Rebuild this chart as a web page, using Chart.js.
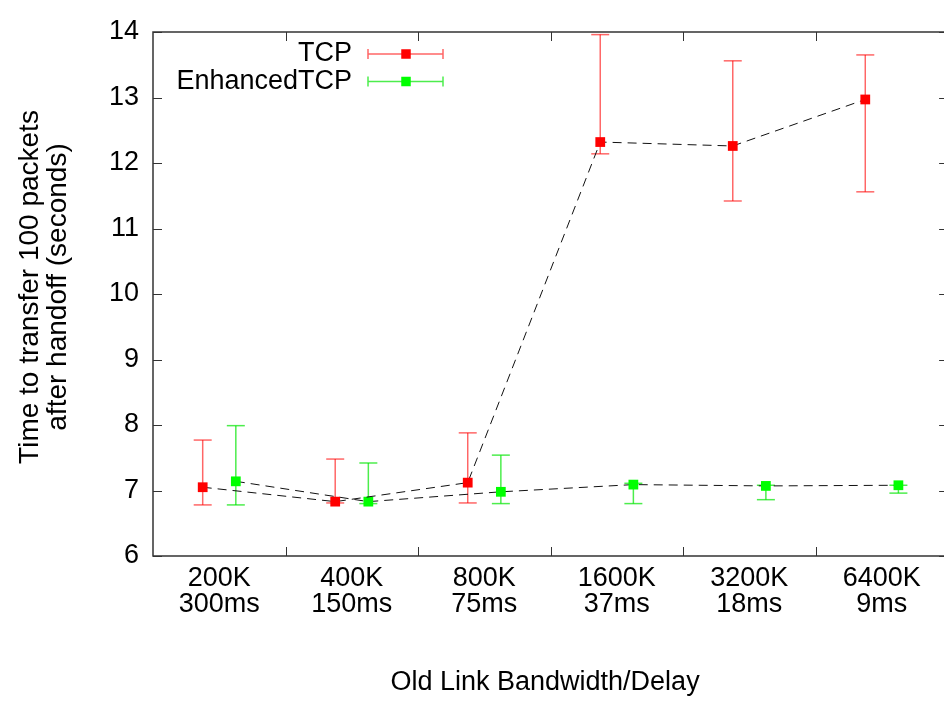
<!DOCTYPE html>
<html>
<head>
<meta charset="utf-8">
<script src="https://cdn.jsdelivr.net/npm/chart.js@4.4.0/dist/chart.umd.min.js"></script>
<style>
  html, body { margin: 0; padding: 0; background: #fff; overflow: hidden; }
</style>
</head>
<body>
<canvas id="chart" width="944" height="702"></canvas>
<script>
// Datos
const bandwidths = ['200K', '400K', '800K', '1600K', '3200K', '6400K'];
const delays = ['300ms', '150ms', '75ms', '37ms', '18ms', '9ms'];
const tcpMean = [7.05, 6.83, 7.12, 12.32, 12.26, 12.97];
const tcpLow = [6.78, 6.81, 6.81, 12.14, 11.42, 11.56];
const tcpHigh = [7.77, 7.48, 7.88, 13.96, 13.56, 13.65];
const enhMean = [7.14, 6.83, 6.98, 7.09, 7.07, 7.08];
const enhLow = [6.78, 6.80, 6.80, 6.80, 6.86, 6.96];
const enhHigh = [7.99, 7.42, 7.54, 7.11, 7.08, 7.08];
const yTicks = [6, 7, 8, 9, 10, 11, 12, 13, 14];

const FONT = '"Liberation Sans", Arial, Helvetica, sans-serif';
const dodge = 0.125;     // desplazamiento de cada serie dentro de la categoría
const xMin = -0.5;
const xMax = 5.417;      // la imagen corta justo antes del borde derecho
const xRightEdge = 5.5;  // borde derecho del marco (fuera de la imagen)

function toPoints(mean, low, high, shift) {
    return mean.map((v, i) => ({ x: i + shift, y: v, lo: low[i], hi: high[i] }));
}

// Barras de error, marco con ticks hacia dentro y leyenda estilo gnuplot
const gnuplotStyle = {
    id: 'gnuplotStyle',
    beforeDatasetsDraw(chart) {
        const { ctx, chartArea: a, scales: { x, y } } = chart;
        const line = (x1, y1, x2, y2) => { ctx.beginPath(); ctx.moveTo(x1, y1); ctx.lineTo(x2, y2); ctx.stroke(); };
        const right = x.getPixelForValue(xRightEdge);
        ctx.save();
        ctx.strokeStyle = '#333';
        ctx.lineWidth = 1.5;
        ctx.beginPath();
        ctx.moveTo(right, a.top);
        ctx.lineTo(a.left, a.top);
        ctx.lineTo(a.left, a.bottom);
        ctx.lineTo(right, a.bottom);
        ctx.lineTo(right, a.top);
        ctx.stroke();
        ctx.lineWidth = 1;
        yTicks.forEach(v => {
            const py = Math.round(y.getPixelForValue(v)) + 0.5;
            line(a.left, py, a.left + 9, py);
            line(right - 9, py, right, py);
        });
        bandwidths.slice(1).forEach((_, i) => {
            const px = Math.round(x.getPixelForValue(i + 0.5)) + 0.5;
            line(px, a.bottom, px, a.bottom - 9);
            line(px, a.top, px, a.top + 9);
        });
        chart.data.datasets.forEach(ds => {
            ctx.strokeStyle = ds.errorColor;
            ctx.lineWidth = 1.5;
            ds.data.forEach(p => {
                const px = x.getPixelForValue(p.x);
                const lo = y.getPixelForValue(p.lo);
                const hi = y.getPixelForValue(p.hi);
                line(px, lo, px, hi);
                line(px - 9, lo, px + 9, lo);
                line(px - 9, hi, px + 9, hi);
            });
        });
        ctx.restore();
    },
    afterDraw(chart) {
        const { ctx, chartArea: a } = chart;
        ctx.save();
        ctx.font = '27px ' + FONT;
        ctx.textAlign = 'right';
        ctx.textBaseline = 'middle';
        chart.data.datasets.forEach((ds, i) => {
            const ly = a.top + 22 + i * 27.5;
            ctx.fillStyle = '#000';
            ctx.fillText(ds.label, a.left + 199, ly);
            ctx.strokeStyle = ds.errorColor;
            ctx.lineWidth = 1.5;
            ctx.beginPath();
            ctx.moveTo(a.left + 215, ly); ctx.lineTo(a.left + 290, ly);
            ctx.moveTo(a.left + 215, ly - 5); ctx.lineTo(a.left + 215, ly + 5);
            ctx.moveTo(a.left + 290, ly - 5); ctx.lineTo(a.left + 290, ly + 5);
            ctx.stroke();
            ctx.fillStyle = ds.pointBackgroundColor;
            ctx.fillRect(a.left + 253 - 4.75, ly - 4.75, 9.5, 9.5);
        });
        ctx.restore();
    }
};

document.addEventListener('DOMContentLoaded', function () {
    const ctx = document.getElementById('chart').getContext('2d');
    const lineStyle = {
        showLine: true,
        borderColor: '#111',
        borderWidth: 1,
        borderDash: [9, 6],
        pointStyle: 'rect',
        pointRadius: 6.9,
        pointBorderWidth: 0,
        clip: false
    };
    new Chart(ctx, {
        type: 'scatter',
        data: {
            datasets: [
                Object.assign({
                    label: 'TCP',
                    data: toPoints(tcpMean, tcpLow, tcpHigh, -dodge),
                    pointBackgroundColor: '#ff0000',
                    errorColor: 'rgba(255, 0, 0, 0.6)'
                }, lineStyle),
                Object.assign({
                    label: 'EnhancedTCP',
                    data: toPoints(enhMean, enhLow, enhHigh, dodge),
                    pointBackgroundColor: '#00ff00',
                    errorColor: 'rgba(0, 230, 0, 0.7)'
                }, lineStyle)
            ]
        },
        options: {
            responsive: false,
            animation: false,
            layout: { padding: { top: 32, right: 1, left: 0, bottom: 0 } },
            plugins: { legend: { display: false }, tooltip: { enabled: false } },
            scales: {
                x: {
                    type: 'linear',
                    bounds: 'data',
                    min: xMin,
                    max: xMax,
                    afterBuildTicks: s => {
                        s.ticks = bandwidths.map((_, i) => ({ value: i }));
                        s.min = xMin;
                        s.max = xMax;
                    },
                    afterFit: s => { s.height = 146; },
                    grid: { display: false, drawTicks: false },
                    border: { display: false },
                    ticks: {
                        autoSkip: false,
                        maxRotation: 0,
                        padding: 9,
                        color: '#000',
                        font: { family: FONT, size: 27, lineHeight: 0.97 },
                        callback: v => [bandwidths[v], delays[v]]
                    },
                    title: {
                        display: true,
                        text: 'Old Link Bandwidth/Delay',
                        color: '#000',
                        font: { family: FONT, size: 27 },
                        padding: { top: 0, bottom: 3 }
                    }
                },
                y: {
                    min: 6,
                    max: 14,
                    afterFit: s => { s.width = 153; },
                    grid: { display: false, drawTicks: false },
                    border: { display: false },
                    ticks: {
                        stepSize: 1,
                        padding: 14,
                        color: '#000',
                        font: { family: FONT, size: 27 }
                    },
                    title: {
                        display: true,
                        text: ['\u2002Time to transfer 100 packets', '\u2002after handoff (seconds)'],
                        color: '#000',
                        font: { family: FONT, size: 28, lineHeight: 1.0 },
                        padding: { top: 16, bottom: 0 }
                    }
                }
            }
        },
        plugins: [gnuplotStyle]
    });
});
</script>
</body>
</html>
